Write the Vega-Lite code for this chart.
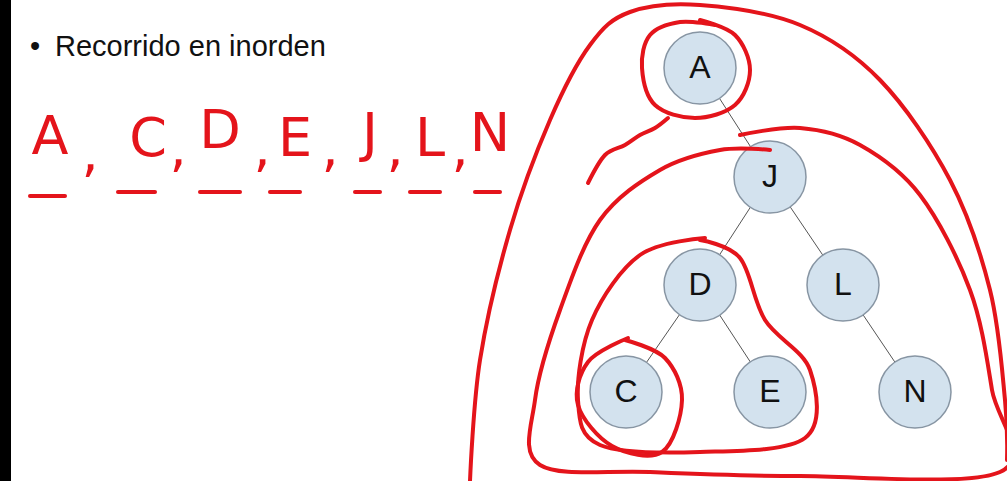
{
  "$schema": "https://vega.github.io/schema/vega-lite/v6.json",
  "width": 1007,
  "height": 481,
  "autosize": "none",
  "padding": 0,
  "background": "white",
  "config": {"view": {"stroke": null}},
  "datasets": {
    "nodes": [
      {"id": "A", "x": 700, "y": 68},
      {"id": "J", "x": 770, "y": 177},
      {"id": "D", "x": 700, "y": 285},
      {"id": "L", "x": 843, "y": 285},
      {"id": "C", "x": 626, "y": 392},
      {"id": "E", "x": 770, "y": 392},
      {"id": "N", "x": 915, "y": 392}
    ],
    "edges": [
      {"x": 700, "y": 68, "x2": 770, "y2": 177},
      {"x": 770, "y": 177, "x2": 700, "y2": 285},
      {"x": 770, "y": 177, "x2": 843, "y2": 285},
      {"x": 700, "y": 285, "x2": 626, "y2": 392},
      {"x": 700, "y": 285, "x2": 770, "y2": 392},
      {"x": 843, "y": 285, "x2": 915, "y2": 392}
    ],
    "curves": [
      {"c": "a", "o": 1, "x": 700, "y": 20}, {"c": "a", "o": 2, "x": 735, "y": 35},
      {"c": "a", "o": 3, "x": 750, "y": 70}, {"c": "a", "o": 4, "x": 735, "y": 105},
      {"c": "a", "o": 5, "x": 695, "y": 118}, {"c": "a", "o": 6, "x": 655, "y": 105},
      {"c": "a", "o": 7, "x": 642, "y": 68}, {"c": "a", "o": 8, "x": 650, "y": 35},
      {"c": "a", "o": 9, "x": 680, "y": 22}, {"c": "a", "o": 10, "x": 715, "y": 25},

      {"c": "b", "o": 1, "x": 470, "y": 481}, {"c": "b", "o": 2, "x": 480, "y": 360},
      {"c": "b", "o": 3, "x": 510, "y": 230}, {"c": "b", "o": 4, "x": 550, "y": 120},
      {"c": "b", "o": 5, "x": 590, "y": 45}, {"c": "b", "o": 6, "x": 630, "y": 12},
      {"c": "b", "o": 7, "x": 700, "y": 5}, {"c": "b", "o": 8, "x": 800, "y": 25},
      {"c": "b", "o": 9, "x": 880, "y": 80}, {"c": "b", "o": 10, "x": 950, "y": 180},
      {"c": "b", "o": 11, "x": 990, "y": 290}, {"c": "b", "o": 12, "x": 1005, "y": 400},
      {"c": "b", "o": 13, "x": 1007, "y": 460},

      {"c": "s", "o": 1, "x": 588, "y": 183}, {"c": "s", "o": 2, "x": 605, "y": 155},
      {"c": "s", "o": 3, "x": 625, "y": 145}, {"c": "s", "o": 4, "x": 640, "y": 135},
      {"c": "s", "o": 5, "x": 655, "y": 128}, {"c": "s", "o": 6, "x": 668, "y": 118},

      {"c": "j", "o": 1, "x": 770, "y": 150}, {"c": "j", "o": 2, "x": 720, "y": 150},
      {"c": "j", "o": 3, "x": 660, "y": 170}, {"c": "j", "o": 4, "x": 600, "y": 220},
      {"c": "j", "o": 5, "x": 560, "y": 310}, {"c": "j", "o": 6, "x": 535, "y": 400},
      {"c": "j", "o": 7, "x": 540, "y": 465}, {"c": "j", "o": 8, "x": 650, "y": 472},
      {"c": "j", "o": 9, "x": 800, "y": 476}, {"c": "j", "o": 10, "x": 1000, "y": 472},
      {"c": "j", "o": 11, "x": 992, "y": 390}, {"c": "j", "o": 12, "x": 970, "y": 290},
      {"c": "j", "o": 13, "x": 920, "y": 195}, {"c": "j", "o": 14, "x": 860, "y": 145},
      {"c": "j", "o": 15, "x": 800, "y": 128}, {"c": "j", "o": 16, "x": 740, "y": 135},

      {"c": "d", "o": 1, "x": 700, "y": 240}, {"c": "d", "o": 2, "x": 740, "y": 258},
      {"c": "d", "o": 3, "x": 765, "y": 320}, {"c": "d", "o": 4, "x": 810, "y": 370},
      {"c": "d", "o": 5, "x": 805, "y": 438}, {"c": "d", "o": 6, "x": 700, "y": 452},
      {"c": "d", "o": 7, "x": 600, "y": 445}, {"c": "d", "o": 8, "x": 578, "y": 400},
      {"c": "d", "o": 9, "x": 592, "y": 320}, {"c": "d", "o": 10, "x": 640, "y": 255},
      {"c": "d", "o": 11, "x": 705, "y": 238},

      {"c": "k", "o": 1, "x": 625, "y": 340}, {"c": "k", "o": 2, "x": 665, "y": 358},
      {"c": "k", "o": 3, "x": 682, "y": 400}, {"c": "k", "o": 4, "x": 662, "y": 452},
      {"c": "k", "o": 5, "x": 612, "y": 446}, {"c": "k", "o": 6, "x": 578, "y": 405},
      {"c": "k", "o": 7, "x": 588, "y": 362}, {"c": "k", "o": 8, "x": 628, "y": 338}
    ],
    "letters": [
      {"t": "A", "x": 50, "y": 138}, {"t": ",", "x": 90, "y": 155},
      {"t": "C", "x": 148, "y": 140}, {"t": ",", "x": 178, "y": 150},
      {"t": "D", "x": 220, "y": 132}, {"t": ",", "x": 262, "y": 150},
      {"t": "E", "x": 295, "y": 140}, {"t": ",", "x": 330, "y": 150},
      {"t": "J", "x": 370, "y": 135}, {"t": ",", "x": 395, "y": 150},
      {"t": "L", "x": 430, "y": 140}, {"t": ",", "x": 460, "y": 150},
      {"t": "N", "x": 490, "y": 135}
    ],
    "dashes": [
      {"x": 30, "x2": 65, "y": 196}, {"x": 118, "x2": 155, "y": 192},
      {"x": 200, "x2": 240, "y": 192}, {"x": 270, "x2": 300, "y": 192},
      {"x": 355, "x2": 380, "y": 192}, {"x": 410, "x2": 440, "y": 192},
      {"x": 475, "x2": 500, "y": 192}
    ],
    "border": [{"x": 0, "x2": 11, "y": 0, "y2": 481}],
    "title": [{"t": "•", "x": 30, "y": 47}, {"t": "Recorrido en inorden", "x": 55, "y": 47}]
  },
  "encoding": {
    "x": {"field": "x", "type": "quantitative", "scale": {"domain": [0, 1007], "nice": false, "zero": false}, "axis": null},
    "y": {"field": "y", "type": "quantitative", "scale": {"domain": [0, 481], "reverse": true, "nice": false, "zero": false}, "axis": null}
  },
  "layer": [
    {
      "data": {"name": "border"},
      "mark": {"type": "rect", "color": "black"},
      "encoding": {"x2": {"field": "x2"}, "y2": {"field": "y2"}}
    },
    {
      "data": {"name": "title"},
      "mark": {"type": "text", "align": "left", "baseline": "middle", "font": "Liberation Sans", "fontSize": 29, "color": "#111"},
      "encoding": {"text": {"field": "t"}}
    },
    {
      "data": {"name": "edges"},
      "mark": {"type": "rule", "color": "#555", "strokeWidth": 1},
      "encoding": {"x2": {"field": "x2"}, "y2": {"field": "y2"}}
    },
    {
      "data": {"name": "nodes"},
      "mark": {"type": "point", "shape": "circle", "filled": true, "size": 5184, "fill": "#d3e2ee", "stroke": "#8795a3", "strokeWidth": 1.5, "opacity": 1}
    },
    {
      "data": {"name": "nodes"},
      "mark": {"type": "text", "font": "Liberation Sans", "fontSize": 32, "baseline": "middle", "color": "#111"},
      "encoding": {"text": {"field": "id"}}
    },
    {
      "data": {"name": "curves"},
      "mark": {"type": "line", "color": "#e4141b", "strokeWidth": 4, "interpolate": "cardinal", "strokeCap": "round"},
      "encoding": {"detail": {"field": "c"}, "order": {"field": "o"}}
    },
    {
      "data": {"name": "letters"},
      "mark": {"type": "text", "font": "DejaVu Sans", "fontSize": 54, "baseline": "middle", "color": "#e4141b"},
      "encoding": {"text": {"field": "t"}}
    },
    {
      "data": {"name": "dashes"},
      "mark": {"type": "rule", "color": "#e4141b", "strokeWidth": 4, "strokeCap": "round"},
      "encoding": {"x2": {"field": "x2"}}
    }
  ]
}
